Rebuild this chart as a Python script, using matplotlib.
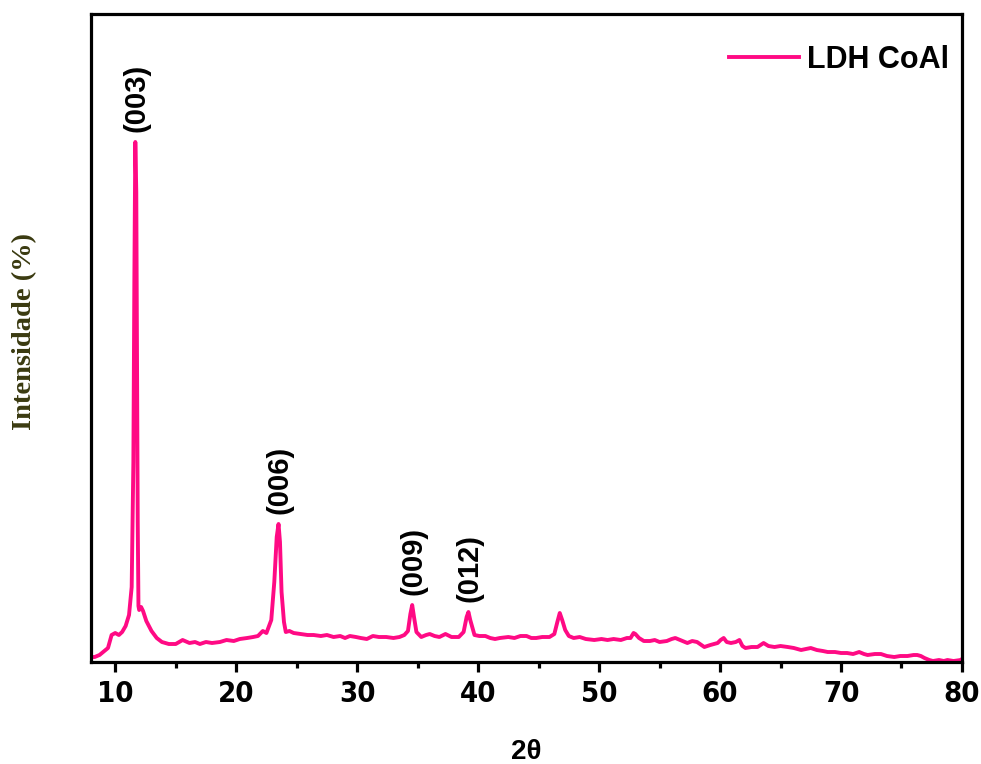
import matplotlib
matplotlib.use("Agg")
import matplotlib.pyplot as plt
from matplotlib.ticker import MultipleLocator

# XRD pattern of the CoAl layered double hydroxide
two_theta = [
    7.9, 8.3, 8.7, 9.1, 9.4, 9.7, 10.0, 10.3, 10.57, 10.86, 11.14, 11.36, 11.5, 11.58,
    11.66, 11.74, 11.8, 11.86, 11.92, 11.98, 12.14, 12.3, 12.57, 13.0, 13.43, 13.86,
    14.43, 15.0, 15.57, 16.14, 16.6, 17.0, 17.5, 18.0, 18.66, 19.2, 19.8, 20.3, 20.9,
    21.4, 21.8, 22.2, 22.5, 22.9, 23.15, 23.35, 23.5, 23.62, 23.75, 23.95, 24.1, 24.4,
    24.75, 25.3, 25.9, 26.4, 27.0, 27.5, 28.05, 28.6, 29.0, 29.4, 29.9, 30.3, 30.8,
    31.3, 31.8, 32.4, 33.0, 33.5, 33.9, 34.2, 34.4, 34.55, 34.7, 34.9, 35.3, 35.7,
    36.0, 36.4, 36.8, 37.3, 37.8, 38.4, 38.8, 39.05, 39.2, 39.35, 39.7, 40.1, 40.6,
    41.0, 41.4, 41.8, 42.5, 43.0, 43.5, 44.0, 44.4, 44.8, 45.3, 45.9, 46.3, 46.55,
    46.75, 46.95, 47.2, 47.5, 47.9, 48.4, 48.9, 49.6, 50.2, 50.7, 51.2, 51.8, 52.3,
    52.6, 52.85, 53.0, 53.3, 53.7, 54.2, 54.6, 55.0, 55.6, 56.0, 56.3, 56.7, 57.3,
    57.7, 58.1, 58.7, 59.2, 59.8, 60.05, 60.3, 60.55, 60.9, 61.3, 61.6, 61.85, 62.1,
    62.6, 63.1, 63.6, 64.0, 64.5, 65.0, 65.6, 66.1, 66.7, 67.1, 67.5, 68.0, 68.5,
    68.9, 69.5, 70.0, 70.5, 71.0, 71.5, 71.9, 72.2, 72.8, 73.3, 73.8, 74.4, 74.9,
    75.5, 76.0, 76.3, 76.6, 76.9, 77.3, 77.6, 78.1, 78.5, 78.8, 79.3, 79.9, 80.0,
]
intensity = [
    5, 5, 7, 11, 14, 27, 29, 27, 30, 36, 47, 75, 200, 380,
    520, 470, 300, 140, 56, 52, 55, 51, 41, 31, 24, 20,
    18, 18, 22, 19, 20, 18, 20, 19, 20, 22, 21, 23, 24,
    25, 26, 31, 29, 42, 80, 125, 138, 120, 70, 40, 30, 31,
    29, 28, 27, 27, 26, 27, 25, 26, 24, 26, 25, 24, 23,
    26, 25, 25, 24, 25, 27, 31, 48, 57, 45, 30, 25, 27,
    28, 26, 25, 28, 25, 25, 30, 45, 50, 42, 27, 26, 26,
    24, 23, 24, 25, 24, 26, 26, 24, 24, 25, 25, 28, 40,
    49, 42, 32, 26, 24, 25, 23, 22, 23, 22, 23, 22, 24,
    24, 29, 28, 24, 21, 21, 22, 20, 21, 23, 24, 22, 19,
    21, 20, 15, 17, 19, 22, 24, 20, 19, 20, 22, 16, 14,
    15, 15, 19, 16, 15, 16, 15, 14, 12, 13, 14, 12, 11,
    10, 10, 9, 9, 8, 10, 8, 7, 8, 8, 6, 5, 6,
    6, 7, 7, 6, 4, 2, 1, 2, 1, 2, 1, 2, 3,
]

# indexed reflections: label, 2theta, peak height
hkl_labels = ["(003)", "(006)", "(009)", "(012)"]
hkl_pos = [11.66, 23.5, 34.55, 39.2]
hkl_height = [520, 138, 57, 50]

pink = "#FF0A84"
bold_sans = ["Liberation Sans", "DejaVu Sans"]
serif = ["Liberation Serif", "DejaVu Serif"]

fig = plt.figure(figsize=(9.81, 7.64), dpi=100)
ax = fig.add_axes([0.0928, 0.1335, 0.8878, 0.8482])

ax.plot(two_theta, intensity, color=pink, lw=2.8, label="LDH CoAl", solid_joinstyle="round")

for lab, x, h in zip(hkl_labels, hkl_pos, hkl_height):
    ax.annotate(lab, (x, h), xytext=(1, 7), textcoords="offset points",
                rotation=90, ha="center", va="bottom", fontsize=21,
                fontweight="bold", family=bold_sans)

ax.set_xlim(8, 80)
ax.set_ylim(0, 648)
ax.xaxis.set_major_locator(MultipleLocator(10))
ax.xaxis.set_minor_locator(MultipleLocator(5))
ax.set_yticks([])

for s in ax.spines.values():
    s.set_linewidth(2.3)

ax.tick_params(axis="x", which="major", direction="out", length=7, width=2.3, pad=6)
ax.tick_params(axis="x", which="minor", direction="out", length=4.5, width=2.3)
for t in ax.get_xticklabels():
    t.set_fontsize(21)
    t.set_fontweight("bold")
    t.set_family("DejaVu Sans")
    t.set_fontstretch("condensed")

ax.set_xlabel("2θ", fontsize=20, fontweight="bold", family=bold_sans, labelpad=22)
ax.set_ylabel("Intensidade (%)", fontsize=20.5, fontweight="bold", color="#3A3A10", family=serif)
ax.yaxis.set_label_coords(-0.062, 0.51)

leg = ax.legend(loc="upper right", bbox_to_anchor=(0.9989, 0.971), frameon=False,
                handlelength=2.3, handletextpad=0.25, borderaxespad=0,
                prop={"family": bold_sans, "weight": "bold", "size": 22})

fig.savefig("out.png", dpi=100)
